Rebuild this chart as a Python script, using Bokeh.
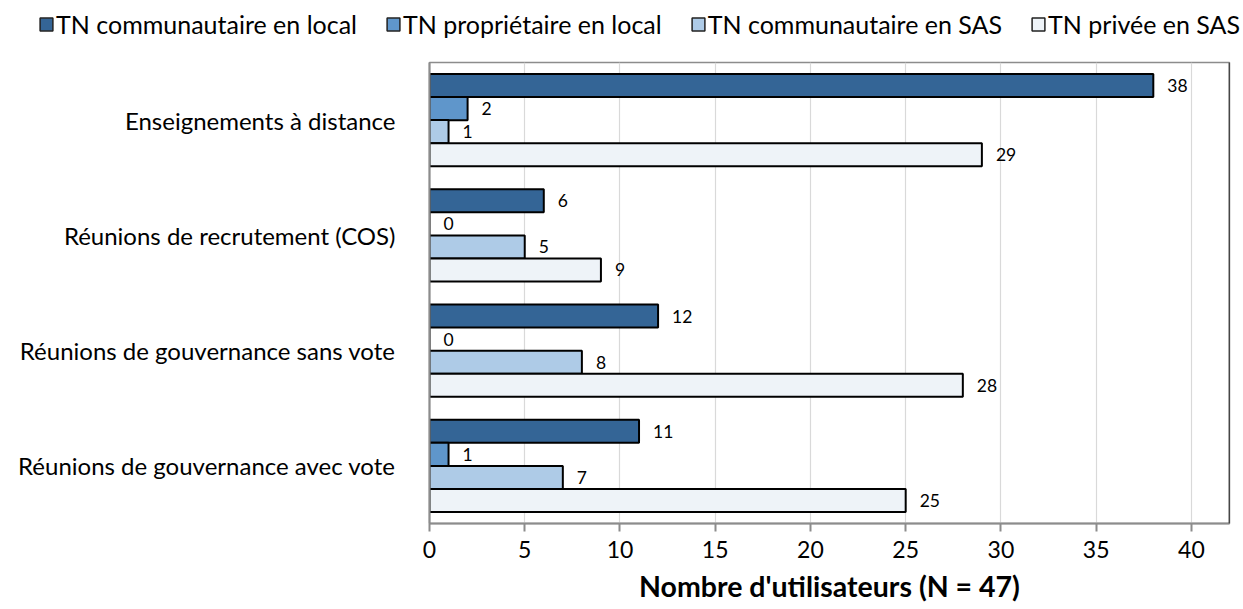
from bokeh.plotting import figure
from bokeh.models import (ColumnDataSource, FactorRange, Range1d, FixedTicker,
                          Legend, LegendItem, Span)
from bokeh.transform import dodge
from bokeh.core.properties import value
from bokeh.embed import file_html
from bokeh.resources import INLINE

categories = ["Enseignements à distance",
              "Réunions de recrutement (COS)",
              "Réunions de gouvernance sans vote",
              "Réunions de gouvernance avec vote"]
series_names = ["TN communautaire en local", "TN propriétaire en local",
                "TN communautaire en SAS", "TN privée en SAS"]
communautaire_local = [38, 6, 12, 11]
proprietaire_local = [2, 0, 0, 1]
communautaire_sas = [1, 5, 8, 7]
privee_sas = [29, 9, 28, 25]
x_ticks = [0, 5, 10, 15, 20, 25, 30, 35, 40]
x_title = "Nombre d'utilisateurs (N = 47)"

colors = ["#346596", "#5F96CB", "#AECBE7", "#EEF3F8"]
offsets = [0.3, 0.1, -0.1, -0.3]

FONT = "Lato"

# ---------- main chart ----------
p = figure(width=1235, height=559, output_backend="svg", toolbar_location=None,
           y_range=FactorRange(factors=list(reversed(categories))),
           x_range=Range1d(0, 42),
           min_border_left=429, min_border_right=6, min_border_top=12,
           min_border_bottom=86)
p.background_fill_color = "white"
p.border_fill_color = "white"
p.outline_line_color = "#8C8C8C"
p.outline_line_width = 1.5

src = ColumnDataSource(dict(cat=categories,
                            s0=communautaire_local, s1=proprietaire_local,
                            s2=communautaire_sas, s3=privee_sas,
                            l0=[str(v) for v in communautaire_local],
                            l1=[str(v) for v in proprietaire_local],
                            l2=[str(v) for v in communautaire_sas],
                            l3=[str(v) for v in privee_sas]))

for i in range(4):
    p.hbar(y=dodge("cat", offsets[i], range=p.y_range), right=f"s{i}", left=0,
           height=0.2, source=src, fill_color=colors[i],
           line_color="black", line_width=2)
    p.text(x=f"s{i}", y=dodge("cat", offsets[i], range=p.y_range), text=f"l{i}",
           source=src, x_offset=14, text_align="left", text_baseline="middle",
           text_font=value(FONT), text_font_size="17.5px", text_color="black")

p.add_layout(Span(location=42, dimension="height", line_color="black", line_width=1.5))

p.xgrid.ticker = FixedTicker(ticks=x_ticks)
p.xgrid.grid_line_color = "#D9D9D9"
p.xgrid.grid_line_width = 1.2
p.ygrid.grid_line_color = None

xa = p.xaxis[0]
xa.ticker = FixedTicker(ticks=x_ticks)
xa.axis_line_color = "#8C8C8C"
xa.axis_line_width = 2
xa.major_tick_line_color = "#8C8C8C"
xa.major_tick_line_width = 2
xa.major_tick_out = 8
xa.major_tick_in = 0
xa.minor_tick_line_color = None
xa.major_label_text_font = FONT
xa.major_label_text_font_size = "23px"
xa.major_label_text_color = "black"
xa.major_label_standoff = 9
xa.axis_label = x_title
xa.axis_label_text_font = FONT
xa.axis_label_text_font_size = "28.5px"
xa.axis_label_text_font_style = "bold"
xa.axis_label_text_color = "black"
xa.axis_label_standoff = 8

ya = p.yaxis[0]
ya.axis_line_color = "#8C8C8C"
ya.axis_line_width = 2
ya.major_tick_line_color = None
ya.minor_tick_line_color = None
ya.major_label_text_font = FONT
ya.major_label_text_font_size = "24px"
ya.major_label_text_color = "black"
ya.major_label_standoff = 28

# ---------- legend strip (separate root, no frame alignment) ----------
lg = figure(width=1243, height=50, output_backend="svg", toolbar_location=None,
            x_range=Range1d(0, 1), y_range=Range1d(0, 1),
            min_border=0, outline_line_color=None)
lg.axis.visible = False
lg.grid.visible = False
lg_renderers = []
for i in range(4):
    r = lg.rect(x=[5], y=[5], width=1, height=1, fill_color=colors[i],
                line_color="#222222", line_width=1.5)
    lg_renderers.append(r)
legend = Legend(items=[LegendItem(label=series_names[i], renderers=[lg_renderers[i]]) for i in range(4)],
                orientation="horizontal", location=(38, 11),
                label_text_font=FONT, label_text_font_size="25px",
                label_text_color="black", glyph_width=16, glyph_height=16,
                label_standoff=2, spacing=28, padding=0, margin=0,
                border_line_color=None, background_fill_alpha=0)
lg.add_layout(legend, "center")

open("out.html", "w").write(file_html([lg, p], INLINE))
